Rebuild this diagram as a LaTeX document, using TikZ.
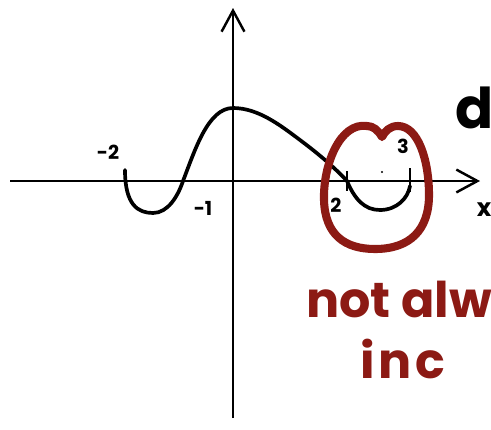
\documentclass[tikz,border=0pt]{standalone}
\usepackage{fontspec}
\usetikzlibrary{arrows.meta}
\newfontfamily\penfont{Poppins}
\newfontfamily\widepen{Poppins}[LetterSpace=8]
\definecolor{penred}{RGB}{140,26,20}
\tikzset{
  axis/.style={line width=1.4pt, -{Straight Barb[length=12pt,width=13pt,line width=1.4pt]}},
  graph/.style={line width=2.1pt, line cap=round, line join=round},
  tickmark/.style={line width=1.6pt},
  ring/.style={penred, line width=4.6pt, line cap=round, line join=round},
  lbl/.style={font=\penfont\bfseries\fontsize{11}{12}\selectfont, inner sep=0pt},
  note/.style={penred, font=\penfont\bfseries\fontsize{28}{30}\selectfont, inner sep=0pt, anchor=base west},
}

\begin{document}
\begin{tikzpicture}[x=0.02cm, y=-0.02cm]
    \path[use as bounding box, clip] (0,0) rectangle (491,430);

    \coordinate (xl) at (10,181);
    \coordinate (xr) at (480,181);
    \coordinate (yb) at (233,418);
    \coordinate (yt) at (233,8);
    \draw[axis] (xl) -- (xr);
    \draw[axis] (yb) -- (yt);

    \coordinate (t2a) at (347,171);
    \coordinate (t2b) at (347,191);
    \coordinate (t3a) at (410,168);
    \coordinate (t3b) at (410,192);
    \draw[tickmark] (t2a) -- (t2b);
    \draw[tickmark] (t3a) -- (t3b);

    \draw[graph] (125,170) .. controls (125,205) and (138,213) .. (153,213)
        .. controls (168,213) and (178,196) .. (183,181)
        .. controls (195,150) and (208,108) .. (233,108)
        .. controls (258,108) and (280,125) .. (300,140)
        .. controls (320,155) and (335,168) .. (347,181)
        .. controls (355,200) and (365,210) .. (380,210)
        .. controls (397,210) and (408,198) .. (410,186);
    \fill (382,172) circle (1.2);

    \node[lbl] (mtwo) at (108,152) {-2};
    \node[lbl] (mone) at (203,208) {-1};
    \node[lbl] (two) at (336,205) {2};
    \node[lbl] (three) at (403,146) {3};
    \node[lbl, font=\penfont\bfseries\fontsize{14}{16}\selectfont] (xlab) at (484,210) {x};

    \draw[ring] (367,126) .. controls (340,122) and (323,165) .. (324,200)
        .. controls (325,235) and (345,249) .. (375,249)
        .. controls (410,249) and (429,230) .. (429,195)
        .. controls (429,160) and (418,126) .. (398,126)
        .. controls (390,126) and (385,131) .. (382,137)
        .. controls (378,130) and (373,126) .. (367,126) -- cycle;

    \node[anchor=base west, inner sep=0pt, font=\penfont\bfseries\fontsize{32}{34}\selectfont] (dword) at (455,128) {d};
    \node[note] (notalw) at (306,317) {not alw};
    \node[note, font=\widepen\bfseries\fontsize{28}{30}\selectfont] (inc) at (360,378) {inc};
\end{tikzpicture}
\end{document}
